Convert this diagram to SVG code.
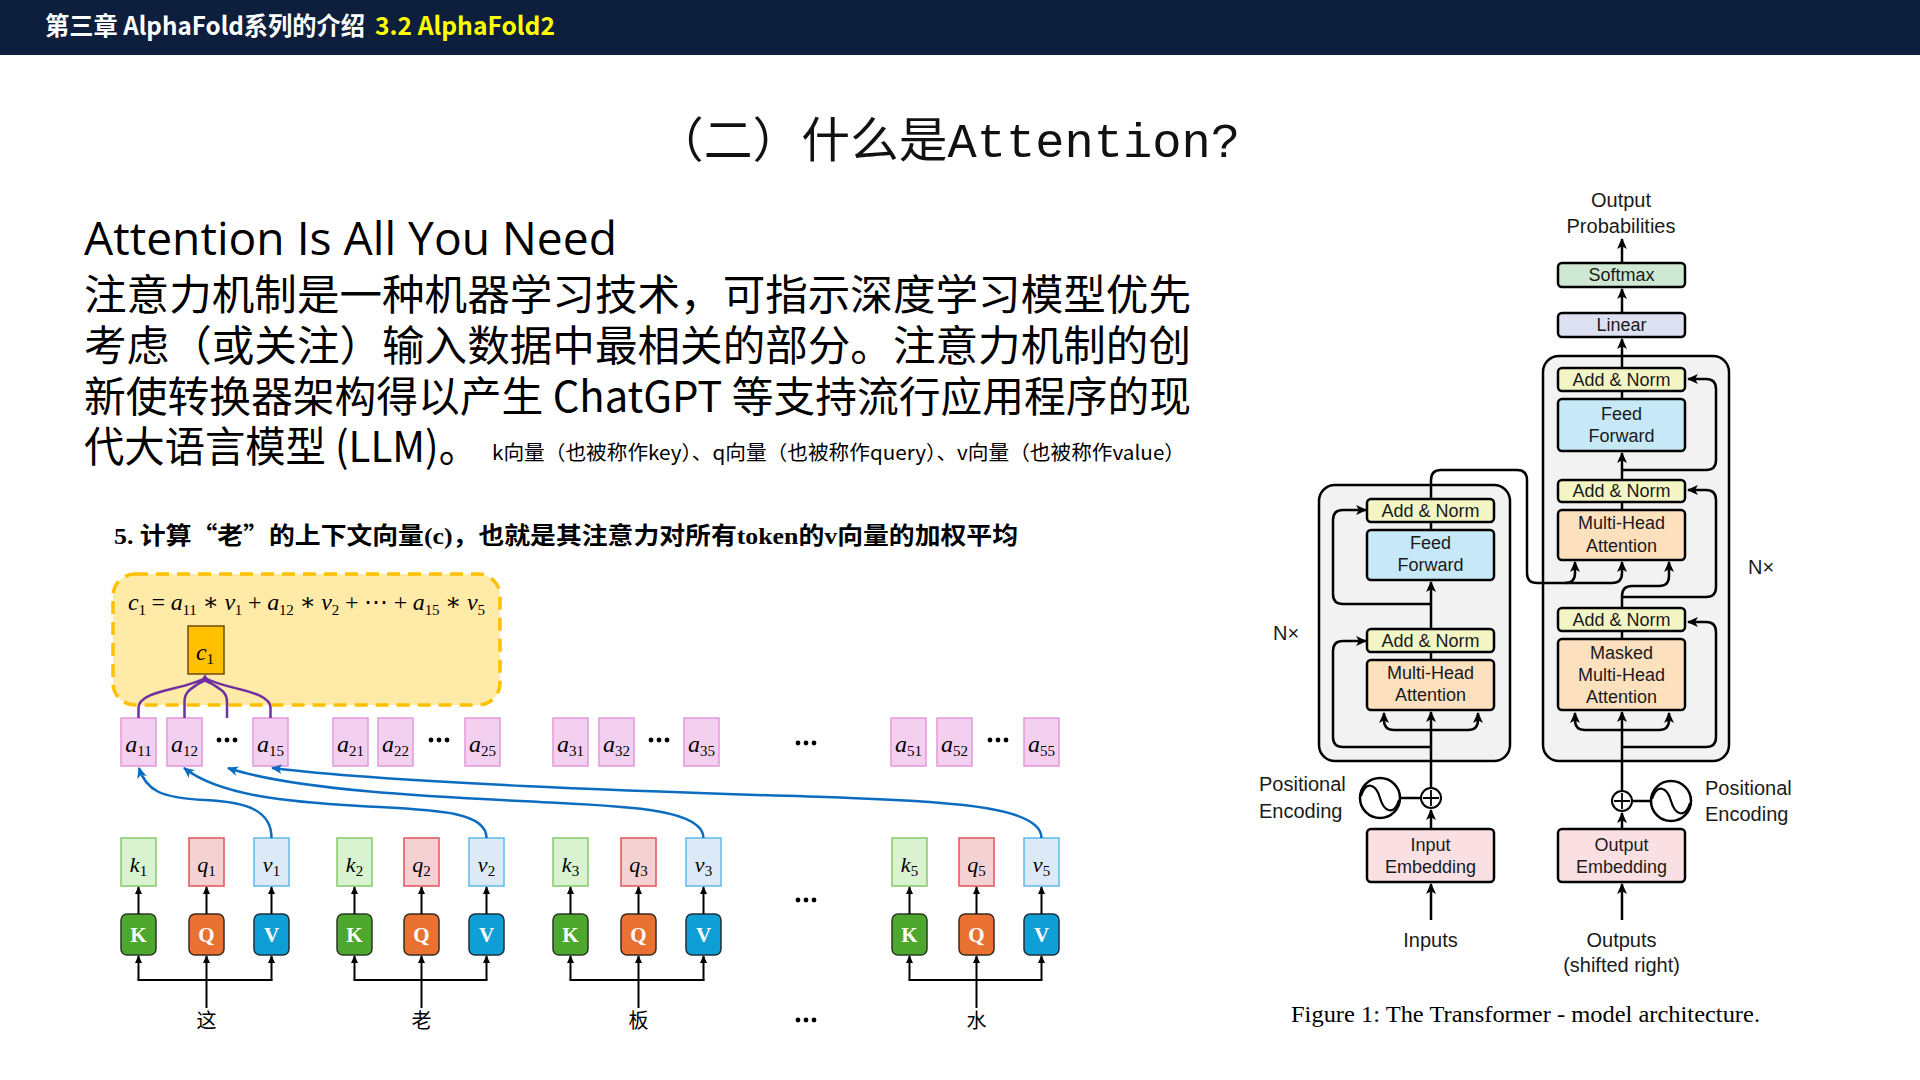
<svg xmlns="http://www.w3.org/2000/svg" width="1920" height="1080" viewBox="0 0 1920 1080">
<defs>
<style>
.hd{font-family:"Noto Sans CJK SC","Noto Sans",sans-serif;font-weight:bold;font-size:25px;fill:#fff}
.ttl{font-family:"Liberation Mono","Noto Sans CJK SC",monospace;font-size:48px;fill:#111}
.en{font-family:"Open Sans","Noto Sans",sans-serif;font-size:46px;fill:#000}
.cn{font-family:"Noto Sans CJK SC","Noto Sans",sans-serif;font-size:42px;fill:#000}
.cs{font-family:"Noto Sans CJK SC","Noto Sans",sans-serif;font-size:20px;fill:#000}
.h5{font-family:"Liberation Serif","Noto Sans CJK SC",serif;font-weight:bold;font-size:24px;fill:#000}
.cj{font-family:"Noto Sans CJK SC",sans-serif}
.mt{font-family:"Liberation Serif","DejaVu Serif",serif;font-size:24px;fill:#000}
.it{font-style:italic}
.sb{font-size:15px}
.ml{font-family:"Liberation Serif","DejaVu Serif",serif;font-size:24px;fill:#000;text-anchor:middle}
.kl{font-family:"Liberation Serif","DejaVu Serif",serif;font-size:22px;fill:#000;text-anchor:middle}
.big{font-family:"Liberation Serif","DejaVu Serif",serif;font-weight:bold;font-size:21px;fill:#fff;text-anchor:middle}
.wd{font-family:"Noto Sans CJK SC",sans-serif;font-size:20px;fill:#000;text-anchor:middle}
.abox{fill:#f3d0ef;stroke:#e596dc;stroke-width:1.5}
.kbox{fill:#d9f2d0;stroke:#86c96c;stroke-width:1.5}
.qbox{fill:#f4d2d4;stroke:#e8525a;stroke-width:1.5}
.vbox{fill:#dce9f6;stroke:#5cbbea;stroke-width:1.5}
.K{fill:#4ea72e;stroke:#2a3a22;stroke-width:1.5}
.Q{fill:#e97132;stroke:#3a2a20;stroke-width:1.5}
.V{fill:#0f9ed5;stroke:#1c2f3a;stroke-width:1.5}
.ln{fill:none;stroke:#000;stroke-width:2}
.bl{fill:none;stroke:#0b6cc0;stroke-width:2.5}
.pu{fill:none;stroke:#7030a0;stroke-width:2.5}
.tf{font-family:"Liberation Sans","Helvetica",sans-serif;font-size:18px;fill:#1a1a1a;text-anchor:middle}
.tl{font-family:"Liberation Sans","Helvetica",sans-serif;font-size:20px;fill:#1a1a1a}
.tc{text-anchor:middle}
.outer{fill:#f2f2f2;stroke:#000;stroke-width:2.5}
.bx{stroke:#000;stroke-width:2.5}
.an{fill:#f3f5c5}
.ff{fill:#c6e8f7}
.mh{fill:#fde1bf}
.em{fill:#fbe0e3}
.sm{fill:#cfe8d3}
.li{fill:#dde0f1}
.tw{fill:none;stroke:#000;stroke-width:2.5}
</style>
<marker id="ab" viewBox="0 0 10 10" refX="9" refY="5" markerWidth="11" markerHeight="11" markerUnits="userSpaceOnUse" orient="auto"><path d="M0,0.5 L10,5 L0,9.5 L2.5,5 z" fill="#000"/></marker>
<marker id="as" viewBox="0 0 10 10" refX="9" refY="5" markerWidth="8" markerHeight="8" markerUnits="userSpaceOnUse" orient="auto"><path d="M0,0.5 L10,5 L0,9.5 z" fill="#000"/></marker>
<marker id="abl" viewBox="0 0 10 10" refX="9" refY="5" markerWidth="11" markerHeight="11" markerUnits="userSpaceOnUse" orient="auto"><path d="M0,0.5 L10,5 L0,9.5 L2.5,5 z" fill="#0b6cc0"/></marker>
</defs>
<rect width="1920" height="1080" fill="#fff"/>
<g id="header">
<rect x="0" y="0" width="1920" height="55" fill="#0e1f3d"/>
<text class="hd" x="45" y="35" textLength="320" lengthAdjust="spacingAndGlyphs">第三章 AlphaFold系列的介绍</text>
<text class="hd" x="375" y="35" fill="#ffff00" style="fill:#ffff00" textLength="180" lengthAdjust="spacingAndGlyphs">3.2 AlphaFold2</text>
</g>
<text class="ttl" x="655" y="157" textLength="585" lengthAdjust="spacingAndGlyphs">（二）什么是Attention?</text>
<g id="intro">
<text class="en" x="84" y="255" textLength="533" lengthAdjust="spacingAndGlyphs">Attention Is All You Need</text>
<text class="cn" x="84" y="310" textLength="1107" lengthAdjust="spacingAndGlyphs">注意力机制是一种机器学习技术，可指示深度学习模型优先</text>
<text class="cn" x="84" y="361" textLength="1107" lengthAdjust="spacingAndGlyphs">考虑（或关注）输入数据中最相关的部分。注意力机制的创</text>
<text class="cn" x="84" y="412" textLength="1107" lengthAdjust="spacingAndGlyphs">新使转换器架构得以产生 ChatGPT 等支持流行应用程序的现</text>
<text class="cn" x="84" y="462" textLength="395" lengthAdjust="spacingAndGlyphs">代大语言模型 (LLM)。</text>
<text class="cs" x="492" y="460" textLength="693" lengthAdjust="spacingAndGlyphs">k向量（也被称作key）、q向量（也被称作query）、v向量（也被称作value）</text>
<text class="h5" x="114" y="544" textLength="904" lengthAdjust="spacingAndGlyphs">5. 计算<tspan class="cj">“老”</tspan>的上下文向量(c)，也就是其注意力对所有token的v向量的加权平均</text>
</g>
<g id="context-box">
<rect x="113" y="574" width="387" height="131" rx="22" fill="#ffeaa8" stroke="#ffc000" stroke-width="3.5" stroke-dasharray="13 8"/>
<text class="mt" x="128" y="610" textLength="357" lengthAdjust="spacing"><tspan class="it">c</tspan><tspan class="sb" dy="5">1</tspan><tspan dy="-5"> = </tspan><tspan class="it">a</tspan><tspan class="sb" dy="5">11</tspan><tspan dy="-5"> ∗ </tspan><tspan class="it">v</tspan><tspan class="sb" dy="5">1</tspan><tspan dy="-5"> + </tspan><tspan class="it">a</tspan><tspan class="sb" dy="5">12</tspan><tspan dy="-5"> ∗ </tspan><tspan class="it">v</tspan><tspan class="sb" dy="5">2</tspan><tspan dy="-5"> + ⋯ + </tspan><tspan class="it">a</tspan><tspan class="sb" dy="5">15</tspan><tspan dy="-5"> ∗ </tspan><tspan class="it">v</tspan><tspan class="sb" dy="5">5</tspan></text>
</g>
<g id="c1">
<rect x="188" y="626" width="36" height="48" fill="#ffc000" stroke="#6b4d00" stroke-width="1.5"/>
<text class="ml" x="205" y="660"><tspan class="it">c</tspan><tspan class="sb" dy="4">1</tspan></text>
</g>
<g id="a-row">
<g id="a11"><rect class="abox" x="121" y="718" width="35" height="48"/><text class="ml" x="138.5" y="752"><tspan class="it">a</tspan><tspan class="sb" dy="4">11</tspan></text></g>
<g id="a12"><rect class="abox" x="167" y="718" width="35" height="48"/><text class="ml" x="184.5" y="752"><tspan class="it">a</tspan><tspan class="sb" dy="4">12</tspan></text></g>
<g id="a15"><rect class="abox" x="253" y="718" width="35" height="48"/><text class="ml" x="270.5" y="752"><tspan class="it">a</tspan><tspan class="sb" dy="4">15</tspan></text></g>
<g id="a21"><rect class="abox" x="333" y="718" width="35" height="48"/><text class="ml" x="350.5" y="752"><tspan class="it">a</tspan><tspan class="sb" dy="4">21</tspan></text></g>
<g id="a22"><rect class="abox" x="378" y="718" width="35" height="48"/><text class="ml" x="395.5" y="752"><tspan class="it">a</tspan><tspan class="sb" dy="4">22</tspan></text></g>
<g id="a25"><rect class="abox" x="465" y="718" width="35" height="48"/><text class="ml" x="482.5" y="752"><tspan class="it">a</tspan><tspan class="sb" dy="4">25</tspan></text></g>
<g id="a31"><rect class="abox" x="553" y="718" width="35" height="48"/><text class="ml" x="570.5" y="752"><tspan class="it">a</tspan><tspan class="sb" dy="4">31</tspan></text></g>
<g id="a32"><rect class="abox" x="599" y="718" width="35" height="48"/><text class="ml" x="616.5" y="752"><tspan class="it">a</tspan><tspan class="sb" dy="4">32</tspan></text></g>
<g id="a35"><rect class="abox" x="684" y="718" width="35" height="48"/><text class="ml" x="701.5" y="752"><tspan class="it">a</tspan><tspan class="sb" dy="4">35</tspan></text></g>
<g id="a51"><rect class="abox" x="891" y="718" width="35" height="48"/><text class="ml" x="908.5" y="752"><tspan class="it">a</tspan><tspan class="sb" dy="4">51</tspan></text></g>
<g id="a52"><rect class="abox" x="937" y="718" width="35" height="48"/><text class="ml" x="954.5" y="752"><tspan class="it">a</tspan><tspan class="sb" dy="4">52</tspan></text></g>
<g id="a55"><rect class="abox" x="1024" y="718" width="35" height="48"/><text class="ml" x="1041.5" y="752"><tspan class="it">a</tspan><tspan class="sb" dy="4">55</tspan></text></g>
</g>
<g id="ellipses" fill="#000">
<circle cx="219" cy="740" r="2.4"/><circle cx="227" cy="740" r="2.4"/><circle cx="235" cy="740" r="2.4"/>
<circle cx="431" cy="740" r="2.4"/><circle cx="439" cy="740" r="2.4"/><circle cx="447" cy="740" r="2.4"/>
<circle cx="651" cy="740" r="2.4"/><circle cx="659" cy="740" r="2.4"/><circle cx="667" cy="740" r="2.4"/>
<circle cx="798" cy="743" r="2.4"/><circle cx="806" cy="743" r="2.4"/><circle cx="814" cy="743" r="2.4"/>
<circle cx="990" cy="740" r="2.4"/><circle cx="998" cy="740" r="2.4"/><circle cx="1006" cy="740" r="2.4"/>
<circle cx="798" cy="900" r="2.4"/><circle cx="806" cy="900" r="2.4"/><circle cx="814" cy="900" r="2.4"/>
<circle cx="798" cy="1020" r="2.4"/><circle cx="806" cy="1020" r="2.4"/><circle cx="814" cy="1020" r="2.4"/>
</g>
<g id="kqv-vectors">
<g id="k1"><rect class="kbox" x="121" y="838" width="35" height="48"/><text class="kl" x="138.5" y="872"><tspan class="it">k</tspan><tspan class="sb" dy="4">1</tspan></text></g>
<g id="q1"><rect class="qbox" x="189" y="838" width="35" height="48"/><text class="kl" x="206.5" y="872"><tspan class="it">q</tspan><tspan class="sb" dy="4">1</tspan></text></g>
<g id="v1"><rect class="vbox" x="254" y="838" width="35" height="48"/><text class="kl" x="271.5" y="872"><tspan class="it">v</tspan><tspan class="sb" dy="4">1</tspan></text></g>
<g id="k2"><rect class="kbox" x="337" y="838" width="35" height="48"/><text class="kl" x="354.5" y="872"><tspan class="it">k</tspan><tspan class="sb" dy="4">2</tspan></text></g>
<g id="q2"><rect class="qbox" x="404" y="838" width="35" height="48"/><text class="kl" x="421.5" y="872"><tspan class="it">q</tspan><tspan class="sb" dy="4">2</tspan></text></g>
<g id="v2"><rect class="vbox" x="469" y="838" width="35" height="48"/><text class="kl" x="486.5" y="872"><tspan class="it">v</tspan><tspan class="sb" dy="4">2</tspan></text></g>
<g id="k3"><rect class="kbox" x="553" y="838" width="35" height="48"/><text class="kl" x="570.5" y="872"><tspan class="it">k</tspan><tspan class="sb" dy="4">3</tspan></text></g>
<g id="q3"><rect class="qbox" x="621" y="838" width="35" height="48"/><text class="kl" x="638.5" y="872"><tspan class="it">q</tspan><tspan class="sb" dy="4">3</tspan></text></g>
<g id="v3"><rect class="vbox" x="686" y="838" width="35" height="48"/><text class="kl" x="703.5" y="872"><tspan class="it">v</tspan><tspan class="sb" dy="4">3</tspan></text></g>
<g id="k5"><rect class="kbox" x="892" y="838" width="35" height="48"/><text class="kl" x="909.5" y="872"><tspan class="it">k</tspan><tspan class="sb" dy="4">5</tspan></text></g>
<g id="q5"><rect class="qbox" x="959" y="838" width="35" height="48"/><text class="kl" x="976.5" y="872"><tspan class="it">q</tspan><tspan class="sb" dy="4">5</tspan></text></g>
<g id="v5"><rect class="vbox" x="1024" y="838" width="35" height="48"/><text class="kl" x="1041.5" y="872"><tspan class="it">v</tspan><tspan class="sb" dy="4">5</tspan></text></g>
</g>
<g id="kqv-matrices">
<g><rect class="K" x="121" y="914" width="35" height="41" rx="6"/><text class="big" x="138.5" y="942">K</text></g>
<g><rect class="Q" x="189" y="914" width="35" height="41" rx="6"/><text class="big" x="206.5" y="942">Q</text></g>
<g><rect class="V" x="254" y="914" width="35" height="41" rx="6"/><text class="big" x="271.5" y="942">V</text></g>
<g><rect class="K" x="337" y="914" width="35" height="41" rx="6"/><text class="big" x="354.5" y="942">K</text></g>
<g><rect class="Q" x="404" y="914" width="35" height="41" rx="6"/><text class="big" x="421.5" y="942">Q</text></g>
<g><rect class="V" x="469" y="914" width="35" height="41" rx="6"/><text class="big" x="486.5" y="942">V</text></g>
<g><rect class="K" x="553" y="914" width="35" height="41" rx="6"/><text class="big" x="570.5" y="942">K</text></g>
<g><rect class="Q" x="621" y="914" width="35" height="41" rx="6"/><text class="big" x="638.5" y="942">Q</text></g>
<g><rect class="V" x="686" y="914" width="35" height="41" rx="6"/><text class="big" x="703.5" y="942">V</text></g>
<g><rect class="K" x="892" y="914" width="35" height="41" rx="6"/><text class="big" x="909.5" y="942">K</text></g>
<g><rect class="Q" x="959" y="914" width="35" height="41" rx="6"/><text class="big" x="976.5" y="942">Q</text></g>
<g><rect class="V" x="1024" y="914" width="35" height="41" rx="6"/><text class="big" x="1041.5" y="942">V</text></g>
</g>
<g id="words">
<text class="wd" x="206.5" y="1028">这</text>
<text class="wd" x="421.5" y="1028">老</text>
<text class="wd" x="638.5" y="1028">板</text>
<text class="wd" x="976.5" y="1028">水</text>
</g>
<g id="left-connectors">
<g class="ln" marker-end="url(#as)">
<path d="M138.5,914 V887"/><path d="M206.5,914 V887"/><path d="M271.5,914 V887"/>
<path d="M354.5,914 V887"/><path d="M421.5,914 V887"/><path d="M486.5,914 V887"/>
<path d="M570.5,914 V887"/><path d="M638.5,914 V887"/><path d="M703.5,914 V887"/>
<path d="M909.5,914 V887"/><path d="M976.5,914 V887"/><path d="M1041.5,914 V887"/>
<path d="M138.5,980 V956"/><path d="M271.5,980 V956"/><path d="M206.5,1008 V956"/>
<path d="M354.5,980 V956"/><path d="M486.5,980 V956"/><path d="M421.5,1008 V956"/>
<path d="M570.5,980 V956"/><path d="M703.5,980 V956"/><path d="M638.5,1008 V956"/>
<path d="M909.5,980 V956"/><path d="M1041.5,980 V956"/><path d="M976.5,1008 V956"/>
</g>
<g class="ln" stroke-width="2.5">
<path d="M137.5,980 H272.5"/><path d="M353.5,980 H487.5"/><path d="M569.5,980 H704.5"/><path d="M908.5,980 H1042.5"/>
</g>
<g class="bl" marker-end="url(#abl)">
<path d="M271.5,838 C271.5,812 250,802 205,800 C160,798 146,790 139,768"/>
<path d="M486.5,838 C486.5,810 430,810 360,806 S220,796 184,768"/>
<path d="M703.5,838 C703.5,808 620,806 540,802 S300,792 228,768"/>
<path d="M1041.5,838 C1041.5,808 960,802 850,798 S420,786 272,768"/>
</g>
<g class="pu">
<path d="M138.5,718 V708 C138.5,690 185,690 205,678"/>
<path d="M184.5,718 V702 C184.5,688 196,688 205,678"/>
<path d="M227,718 V702 C227,688 214,688 205,678"/>
<path d="M270.5,718 V708 C270.5,690 226,690 205,678"/>
</g>
<path d="M205,674 L198.5,685 L205,682 L211.5,685 z" fill="#7030a0"/>
</g>
<g id="transformer">
<rect id="encoder" class="outer" x="1319" y="485" width="191" height="276" rx="16"/>
<rect id="decoder" class="outer" x="1543" y="356" width="186" height="405" rx="16"/>
<g id="t-connectors" class="tw">
<path d="M1431,920 V884" marker-end="url(#ab)"/>
<path d="M1431,829 V810" marker-end="url(#ab)"/>
<path d="M1431,788 V712" marker-end="url(#ab)"/>
<path d="M1431,730 H1394 Q1384,730 1384,720 V713" marker-end="url(#ab)"/>
<path d="M1431,730 H1468 Q1478,730 1478,720 V713" marker-end="url(#ab)"/>
<path d="M1431,747 H1343 Q1333,747 1333,737 V651 Q1333,641 1343,641 H1366" marker-end="url(#ab)"/>
<path d="M1431,660 V652"/>
<path d="M1431,629 V582" marker-end="url(#ab)"/>
<path d="M1431,604 H1343 Q1333,604 1333,594 V520 Q1333,510 1343,510 H1366" marker-end="url(#ab)"/>
<path d="M1431,530 V522"/>
<path d="M1431,499 V480 Q1431,470 1441,470 H1517 Q1527,470 1527,480 V573 Q1527,583 1537,583 H1565 Q1575,583 1575,573 V562" marker-end="url(#ab)"/>
<path d="M1565,583 H1612 Q1622,583 1622,573 V562" marker-end="url(#ab)"/>
<path d="M1400,798 H1421"/>
<path d="M1622,920 V884" marker-end="url(#ab)"/>
<path d="M1622,829 V813" marker-end="url(#ab)"/>
<path d="M1622,791 V712" marker-end="url(#ab)"/>
<path d="M1622,730 H1585 Q1575,730 1575,720 V713" marker-end="url(#ab)"/>
<path d="M1622,730 H1659 Q1669,730 1669,720 V713" marker-end="url(#ab)"/>
<path d="M1622,747 H1706 Q1716,747 1716,737 V632 Q1716,622 1706,622 H1688" marker-end="url(#ab)"/>
<path d="M1622,639 V631"/>
<path d="M1622,608 V596 Q1622,586 1632,586 H1659 Q1669,586 1669,576 V562" marker-end="url(#ab)"/>
<path d="M1622,597 H1706 Q1716,597 1716,587 V500 Q1716,490 1706,490 H1688" marker-end="url(#ab)"/>
<path d="M1622,510 V502"/>
<path d="M1622,480 V453" marker-end="url(#ab)"/>
<path d="M1622,470 H1706 Q1716,470 1716,460 V389 Q1716,379 1706,379 H1688" marker-end="url(#ab)"/>
<path d="M1622,399 V391"/>
<path d="M1622,368 V339" marker-end="url(#ab)"/>
<path d="M1622,313 V289" marker-end="url(#ab)"/>
<path d="M1622,263 V239" marker-end="url(#ab)"/>
<path d="M1651,801 H1632"/>
</g>
<g id="enc-addnorm1"><rect class="bx an" x="1367" y="499" width="127" height="23" rx="4"/><text class="tf" x="1430.5" y="517">Add &amp; Norm</text></g>
<g id="enc-ff"><rect class="bx ff" x="1367" y="530" width="127" height="50" rx="4"/><text class="tf" x="1430.5" y="549">Feed</text><text class="tf" x="1430.5" y="571">Forward</text></g>
<g id="enc-addnorm2"><rect class="bx an" x="1367" y="629" width="127" height="23" rx="4"/><text class="tf" x="1430.5" y="647">Add &amp; Norm</text></g>
<g id="enc-mha"><rect class="bx mh" x="1367" y="660" width="127" height="50" rx="4"/><text class="tf" x="1430.5" y="679">Multi-Head</text><text class="tf" x="1430.5" y="701">Attention</text></g>
<g id="input-emb"><rect class="bx em" x="1367" y="829" width="127" height="53" rx="4"/><text class="tf" x="1430.5" y="851">Input</text><text class="tf" x="1430.5" y="873">Embedding</text></g>
<g id="enc-plus"><circle cx="1431" cy="798" r="10" fill="#fff" stroke="#000" stroke-width="2"/><path d="M1423,798 H1439 M1431,790 V806" stroke="#000" stroke-width="1.8"/></g>
<g id="enc-pos"><circle cx="1380" cy="798" r="20" fill="#fff" stroke="#000" stroke-width="2.5"/><path d="M1361,796 C1366,780 1376,784 1380,798 C1384,812 1394,816 1399,800" fill="none" stroke="#000" stroke-width="2.2"/></g>
<g id="dec-addnorm1"><rect class="bx an" x="1558" y="368" width="127" height="23" rx="4"/><text class="tf" x="1621.5" y="386">Add &amp; Norm</text></g>
<g id="dec-ff"><rect class="bx ff" x="1558" y="399" width="127" height="52" rx="4"/><text class="tf" x="1621.5" y="420">Feed</text><text class="tf" x="1621.5" y="442">Forward</text></g>
<g id="dec-addnorm2"><rect class="bx an" x="1558" y="480" width="127" height="22" rx="4"/><text class="tf" x="1621.5" y="497">Add &amp; Norm</text></g>
<g id="dec-mha"><rect class="bx mh" x="1558" y="510" width="127" height="50" rx="4"/><text class="tf" x="1621.5" y="529">Multi-Head</text><text class="tf" x="1621.5" y="552">Attention</text></g>
<g id="dec-addnorm3"><rect class="bx an" x="1558" y="608" width="127" height="23" rx="4"/><text class="tf" x="1621.5" y="626">Add &amp; Norm</text></g>
<g id="dec-mmha"><rect class="bx mh" x="1558" y="639" width="127" height="71" rx="4"/><text class="tf" x="1621.5" y="659">Masked</text><text class="tf" x="1621.5" y="681">Multi-Head</text><text class="tf" x="1621.5" y="703">Attention</text></g>
<g id="output-emb"><rect class="bx em" x="1558" y="829" width="127" height="53" rx="4"/><text class="tf" x="1621.5" y="851">Output</text><text class="tf" x="1621.5" y="873">Embedding</text></g>
<g id="linear"><rect class="bx li" x="1558" y="313" width="127" height="24" rx="4"/><text class="tf" x="1621.5" y="331">Linear</text></g>
<g id="softmax"><rect class="bx sm" x="1558" y="263" width="127" height="24" rx="4"/><text class="tf" x="1621.5" y="281">Softmax</text></g>
<g id="dec-plus"><circle cx="1622" cy="801" r="10" fill="#fff" stroke="#000" stroke-width="2"/><path d="M1614,801 H1630 M1622,793 V809" stroke="#000" stroke-width="1.8"/></g>
<g id="dec-pos"><circle cx="1671" cy="801" r="20" fill="#fff" stroke="#000" stroke-width="2.5"/><path d="M1652,799 C1657,783 1667,787 1671,801 C1675,815 1685,819 1690,803" fill="none" stroke="#000" stroke-width="2.2"/></g>
<g id="t-labels">
<text class="tl tc" x="1621" y="207">Output</text>
<text class="tl tc" x="1621" y="233">Probabilities</text>
<text class="tl" x="1259" y="791">Positional</text>
<text class="tl" x="1259" y="818">Encoding</text>
<text class="tl" x="1705" y="795">Positional</text>
<text class="tl" x="1705" y="821">Encoding</text>
<text class="tl" x="1273" y="640">N×</text>
<text class="tl" x="1748" y="574">N×</text>
<text class="tl tc" x="1430.5" y="947">Inputs</text>
<text class="tl tc" x="1621.5" y="947">Outputs</text>
<text class="tl tc" x="1621.5" y="972">(shifted right)</text>
</g>
<text x="1291" y="1022" font-family="Liberation Serif, serif" font-size="23" fill="#000" textLength="469" lengthAdjust="spacingAndGlyphs">Figure 1: The Transformer - model architecture.</text>
</g>
</svg>
